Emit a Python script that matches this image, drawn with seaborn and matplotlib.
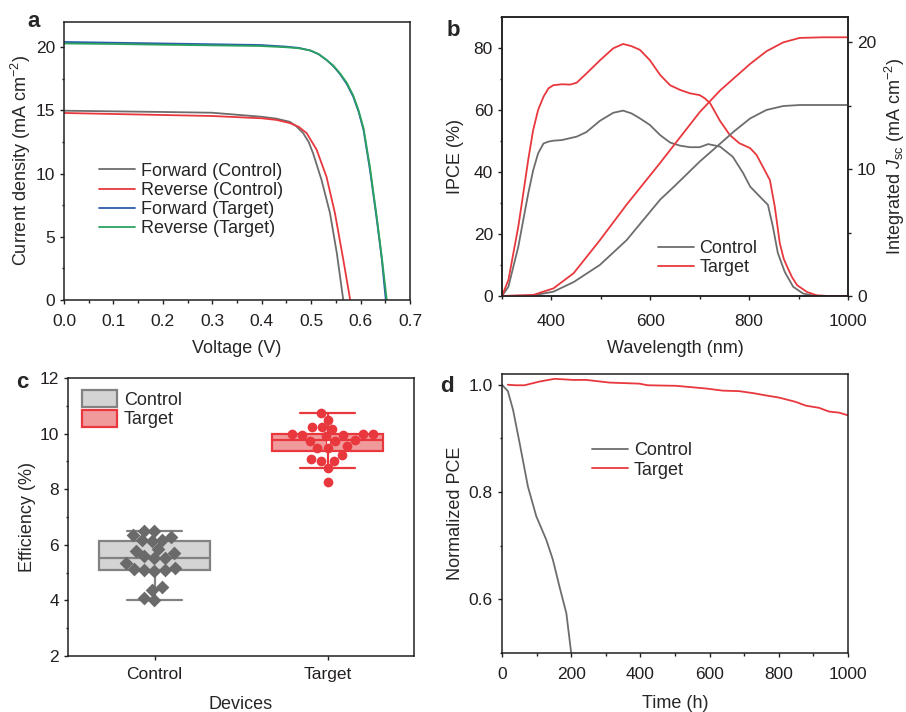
import matplotlib
matplotlib.use("Agg")
import matplotlib.pyplot as plt
from matplotlib.patches import Patch
from matplotlib.ticker import MultipleLocator
import seaborn as sns

sns.set_style("ticks")
plt.rcParams['font.family'] = ['Liberation Sans', 'DejaVu Sans']
plt.rcParams['mathtext.fontset'] = 'custom'
plt.rcParams['mathtext.rm'] = 'Liberation Sans'
plt.rcParams['mathtext.it'] = 'Liberation Sans:italic'
plt.rcParams['axes.edgecolor'] = '#231f20'
plt.rcParams['axes.linewidth'] = 1.1
plt.rcParams['xtick.color'] = '#231f20'
plt.rcParams['ytick.color'] = '#231f20'
plt.rcParams['lines.solid_joinstyle'] = 'round'

GRAY = "#6d6d6d"
RED = "#e8383d"
BLUE = "#2a5caa"
GREEN = "#2ca25f"

# --- panel a: J-V curves
v_fwd_ctrl = [0, 0.1, 0.2, 0.3, 0.4, 0.43, 0.457, 0.47, 0.484, 0.495, 0.504, 0.521, 0.538, 0.552, 0.565]
j_fwd_ctrl = [14.98, 14.93, 14.88, 14.82, 14.5, 14.35, 14.1, 13.75, 13.2, 12.5, 11.6, 9.5, 6.9, 3.7, 0]
v_rev_ctrl = [0, 0.1, 0.2, 0.3, 0.4, 0.43, 0.457, 0.475, 0.491, 0.511, 0.531, 0.548, 0.565, 0.579]
j_rev_ctrl = [14.8, 14.72, 14.64, 14.56, 14.38, 14.25, 14.0, 13.7, 13.2, 11.9, 9.76, 6.9, 3.2, 0]
v_fwd_tgt = [0, 0.1, 0.2, 0.3, 0.397, 0.45, 0.475, 0.498, 0.515, 0.531, 0.545, 0.558, 0.572, 0.585, 0.596,
             0.606, 0.619, 0.633, 0.643, 0.651]
j_fwd_tgt = [20.42, 20.36, 20.3, 20.24, 20.18, 20.05, 19.95, 19.75, 19.45, 19.0, 18.5, 17.9, 17.1, 16.1, 14.9,
             13.45, 10.3, 6.3, 3.2, 0]
v_rev_tgt = [0, 0.1, 0.2, 0.3, 0.397, 0.45, 0.475, 0.498, 0.515, 0.531, 0.545, 0.558, 0.572, 0.585, 0.596,
             0.606, 0.619, 0.633, 0.643, 0.653]
j_rev_tgt = [20.3, 20.26, 20.2, 20.15, 20.1, 20.0, 19.92, 19.75, 19.47, 19.0, 18.55, 17.95, 17.2, 16.2, 15.0,
             13.6, 10.5, 6.5, 3.4, 0]

# --- panel b: IPCE and integrated Jsc
wl_ipce_ctrl = [300, 313, 323, 333, 343, 353, 363, 373, 384, 394, 404, 421, 451, 471, 498, 525, 545, 562, 579,
                599, 620, 640, 660, 680, 700, 717, 741, 767, 788, 802, 822, 838, 848, 858, 872, 889, 909, 930,
                960, 1000]
ipce_ctrl = [0, 3.0, 9.5, 15.9, 24.5, 33.0, 40.5, 46.0, 49.2, 49.8, 50.1, 50.3, 51.4, 52.9, 56.5, 59.1, 59.8,
             58.9, 57.3, 55.2, 51.9, 49.5, 48.5, 48.0, 48.0, 49.0, 48.2, 44.9, 39.6, 35.3, 32.0, 29.4, 22.4,
             13.9, 7.8, 3.0, 0.8, 0.1, 0, 0]
wl_ipce_tgt = [300, 313, 323, 333, 343, 353, 363, 373, 384, 394, 404, 421, 438, 451, 471, 498, 525, 545, 562,
               579, 599, 620, 640, 660, 680, 700, 710, 721, 741, 761, 780, 802, 815, 828, 842, 852, 862, 870,
               877, 887, 897, 917, 937, 960, 1000]
ipce_tgt = [0, 5.2, 13.8, 22.4, 33.0, 43.9, 53.5, 60.0, 64.3, 67.0, 68.0, 68.3, 68.2, 68.8, 71.8, 76.0, 79.9,
            81.3, 80.6, 79.4, 76.1, 71.3, 68.0, 66.5, 65.4, 64.8, 63.8, 62.2, 56.5, 51.9, 49.3, 47.7, 45.5,
            41.6, 37.4, 28.7, 17.0, 12.0, 9.4, 6.0, 3.5, 1.3, 0.2, 0, 0]
wl_int = [300, 363, 404, 445, 498, 552, 620, 650, 700, 741, 770, 802, 835, 869, 902, 950, 1000]
jint_ctrl = [0, 0.05, 0.34, 1.1, 2.45, 4.4, 7.6, 8.7, 10.6, 12.0, 13.0, 14.0, 14.67, 14.98, 15.06, 15.06, 15.06]
jint_tgt = [0, 0.08, 0.6, 1.8, 4.4, 7.2, 10.5, 12.0, 14.5, 16.2, 17.2, 18.3, 19.3, 20.0, 20.35, 20.4, 20.4]

# --- panel c: efficiency statistics
devices = ["Control", "Target"]
eff_ctrl = [6.50, 6.51, 6.17, 6.17, 6.29, 6.12, 6.35, 5.79, 5.70, 5.84, 5.53, 5.58,
            5.51, 5.35, 5.13, 5.18, 5.09, 5.06, 5.09, 4.50, 4.37, 4.03, 4.08]
eff_tgt = [10.75, 10.50, 10.22, 10.18, 10.24, 9.96, 9.96, 9.90, 9.74, 9.74, 10.0, 9.97,
           10.0, 9.76, 9.54, 9.50, 9.50, 9.24, 9.03, 9.03, 9.07, 8.75, 8.25]

# --- panel d: stability
t_ctrl = [0, 17, 32, 51, 75, 99, 128, 147, 166, 186, 200]
pce_ctrl = [1.0, 0.988, 0.953, 0.891, 0.81, 0.755, 0.711, 0.674, 0.624, 0.574, 0.50]
t_tgt = [17, 40, 65, 109, 152, 205, 243, 311, 397, 421, 503, 589, 638, 686, 729, 763, 801, 849, 878, 916, 945, 974, 1000]
pce_tgt = [1.0, 0.999, 0.999, 1.006, 1.011, 1.009, 1.009, 1.004, 1.002, 0.999, 0.998, 0.993, 0.989, 0.988,
           0.984, 0.980, 0.976, 0.968, 0.961, 0.957, 0.950, 0.948, 0.943]

W, H = 906, 712
fig = plt.figure(figsize=(W / 100, H / 100), dpi=100)


def px_axes(left, top, right, bottom):
    return fig.add_axes([left / W, 1 - bottom / H, (right - left) / W, (bottom - top) / H])


def style(ax, xpad):
    ax.tick_params(which="both", direction="out", labelsize=12.5, width=1.0, right=False, top=False)
    ax.tick_params(which="major", length=3)
    ax.tick_params(which="minor", length=1.8)
    ax.tick_params(axis="x", pad=xpad)
    ax.tick_params(axis="y", pad=3.5)


LW = 1.3
leg_kw = dict(frameon=False, fontsize=13, handlelength=2.0, handletextpad=0.3, labelspacing=0.12, borderpad=0)

# a
axa = px_axes(64, 22, 410, 300)
sns.lineplot(x=v_fwd_ctrl, y=j_fwd_ctrl, ax=axa, color=GRAY, lw=LW, label="Forward (Control)")
sns.lineplot(x=v_rev_ctrl, y=j_rev_ctrl, ax=axa, color=RED, lw=LW, label="Reverse (Control)")
sns.lineplot(x=v_fwd_tgt, y=j_fwd_tgt, ax=axa, color=BLUE, lw=LW, label="Forward (Target)")
sns.lineplot(x=v_rev_tgt, y=j_rev_tgt, ax=axa, color=GREEN, lw=LW, label="Reverse (Target)")
axa.set_xlim(0, 0.7)
axa.set_ylim(0, 22)
axa.xaxis.set_major_locator(MultipleLocator(0.1))
axa.xaxis.set_minor_locator(MultipleLocator(0.05))
axa.yaxis.set_major_locator(MultipleLocator(5))
axa.yaxis.set_minor_locator(MultipleLocator(2.5))
axa.set_xlabel("Voltage (V)", fontsize=13, labelpad=7.6)
axa.set_ylabel(r"Current density (mA cm$^{-2}$)", fontsize=13, labelpad=1.5)
axa.legend(loc="center left", bbox_to_anchor=(0.075, 0.36), **leg_kw)
style(axa, 7.4)

# b
axb = px_axes(502, 17, 848, 296)
axb2 = axb.twinx()
sns.lineplot(x=wl_ipce_ctrl, y=ipce_ctrl, ax=axb, color=GRAY, lw=LW, label="Control")
sns.lineplot(x=wl_ipce_tgt, y=ipce_tgt, ax=axb, color=RED, lw=LW, label="Target")
sns.lineplot(x=wl_int, y=jint_ctrl, ax=axb2, color=GRAY, lw=LW)
sns.lineplot(x=wl_int, y=jint_tgt, ax=axb2, color=RED, lw=LW)
axb.set_xlim(300, 1000)
axb.set_ylim(0, 90)
axb2.set_ylim(0, 22)
axb.xaxis.set_major_locator(MultipleLocator(200))
axb.xaxis.set_minor_locator(MultipleLocator(100))
axb.yaxis.set_major_locator(MultipleLocator(20))
axb.yaxis.set_minor_locator(MultipleLocator(10))
axb2.yaxis.set_major_locator(MultipleLocator(10))
axb2.yaxis.set_minor_locator(MultipleLocator(5))
axb.set_xlabel("Wavelength (nm)", fontsize=13, labelpad=7.6)
axb.set_ylabel("IPCE (%)", fontsize=13, labelpad=7)
axb2.set_ylabel(r"Integrated $J_{\mathrm{sc}}$ (mA cm$^{-2}$)", fontsize=13, labelpad=4.5)
axb.legend(loc="center left", bbox_to_anchor=(0.425, 0.135), **leg_kw)
style(axb, 10.3)
axb2.tick_params(which="both", direction="out", labelsize=12.5, width=1.0, left=False, pad=3.5)
axb2.tick_params(which="major", length=3)
axb2.tick_params(which="minor", length=1.8)

# c
axc = px_axes(68, 378, 414, 656)
box_styles = [
    (eff_ctrl, "#d4d4d4", "#828282", "D", "#6a6a6a"),
    (eff_tgt, "#f09a9c", RED, "o", RED),
]
for name, (vals, face, edge, mk, ptc) in zip(devices, box_styles):
    sns.boxplot(x=[name] * len(vals), y=vals, order=devices, ax=axc, width=0.64, color=face,
                saturation=1, linecolor=edge, linewidth=1.6, showfliers=False, showmeans=True,
                meanprops=dict(marker="s", markersize=3, markerfacecolor="white",
                               markeredgecolor=edge, markeredgewidth=0.8))
for name, (vals, face, edge, mk, ptc) in zip(devices, box_styles):
    sns.swarmplot(x=[name] * len(vals), y=vals, order=devices, ax=axc, color=ptc, marker=mk,
                  size=7, linewidth=0)
axc.set_xlim(-0.5, 1.5)
axc.set_ylim(2, 12)
axc.yaxis.set_major_locator(MultipleLocator(2))
axc.yaxis.set_minor_locator(MultipleLocator(1))
axc.set_xlabel("Devices", fontsize=13, labelpad=10)
axc.set_ylabel("Efficiency (%)", fontsize=13, labelpad=2.8)
handles = [Patch(facecolor=s[1], edgecolor=s[2], linewidth=1.6) for s in box_styles]
axc.legend(handles, devices, loc="upper left", bbox_to_anchor=(0.015, 0.99), frameon=False, fontsize=13,
           handlelength=1.9, handleheight=1.1, handletextpad=0.4, labelspacing=0.05, borderpad=0)
style(axc, 5.2)
axc.tick_params(axis="x", which="minor", bottom=False)

# d
axd = px_axes(502, 374, 848, 653)
sns.lineplot(x=t_ctrl, y=pce_ctrl, ax=axd, color=GRAY, lw=LW, label="Control")
sns.lineplot(x=t_tgt, y=pce_tgt, ax=axd, color=RED, lw=LW, label="Target")
axd.set_xlim(0, 1000)
axd.set_ylim(0.5, 1.02)
axd.xaxis.set_major_locator(MultipleLocator(200))
axd.xaxis.set_minor_locator(MultipleLocator(100))
axd.yaxis.set_major_locator(MultipleLocator(0.2))
axd.yaxis.set_minor_locator(MultipleLocator(0.1))
axd.set_xlabel("Time (h)", fontsize=13, labelpad=9)
axd.set_ylabel("Normalized PCE", fontsize=13, labelpad=3.6)
axd.legend(loc="center left", bbox_to_anchor=(0.235, 0.69), **leg_kw)
style(axd, 7.4)

for letter, x, y in [("a", 27, 27), ("b", 447, 36), ("c", 16, 388), ("d", 440, 392)]:
    fig.text(x / W, 1 - y / H, letter, fontsize=16, fontweight="bold", va="baseline")

fig.savefig("out.png", dpi=100)
